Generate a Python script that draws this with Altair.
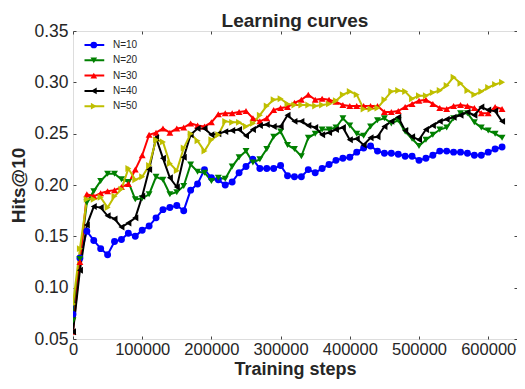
import altair as alt
import pandas as pd

steps = list(range(0, 630000, 10000))
series_names = ["N=10", "N=20", "N=30", "N=40", "N=50"]
colors = ["#0000ff", "#008000", "#ff0000", "#000000", "#bfbf00"]
shapes = ["circle", "triangle-down", "triangle-up", "triangle-left", "triangle-right"]

n10 = [0.074, 0.129, 0.155, 0.146, 0.138, 0.132, 0.145, 0.147, 0.153, 0.150,
       0.156, 0.160, 0.168, 0.176, 0.178, 0.180, 0.175, 0.195, 0.201, 0.215,
       0.207, 0.205, 0.200, 0.203, 0.212, 0.218, 0.225, 0.216, 0.216, 0.216,
       0.219, 0.209, 0.208, 0.208, 0.215, 0.212, 0.216, 0.220, 0.224, 0.226,
       0.227, 0.232, 0.236, 0.238, 0.233, 0.231, 0.231, 0.230, 0.228, 0.228,
       0.224, 0.226, 0.229, 0.233, 0.233, 0.232, 0.232, 0.231, 0.229, 0.229,
       0.232, 0.235, 0.237]
n20 = [0.068, 0.128, 0.183, 0.194, 0.204, 0.211, 0.211, 0.2055, 0.203, 0.186,
       0.187, 0.191, 0.208, 0.205, 0.191, 0.193, 0.199, 0.220, 0.213, 0.212,
       0.204, 0.207, 0.206, 0.218, 0.227, 0.233, 0.222, 0.225, 0.235, 0.247,
       0.252, 0.239, 0.235, 0.228, 0.246, 0.250, 0.254, 0.254, 0.256, 0.265,
       0.258, 0.250, 0.248, 0.257, 0.263, 0.265, 0.260, 0.263, 0.252, 0.245,
       0.238, 0.244, 0.249, 0.254, 0.256, 0.265, 0.270, 0.270, 0.261, 0.256,
       0.253, 0.250, 0.246]
n30 = [0.057, 0.125, 0.191, 0.189, 0.192, 0.194, 0.195, 0.198, 0.201, 0.215,
       0.229, 0.249, 0.251, 0.255, 0.251, 0.255, 0.256, 0.260, 0.258, 0.257,
       0.261, 0.269, 0.270, 0.270, 0.271, 0.272, 0.265, 0.262, 0.265, 0.273,
       0.275, 0.276, 0.280, 0.283, 0.288, 0.283, 0.284, 0.283, 0.281, 0.278,
       0.277, 0.277, 0.277, 0.277, 0.277, 0.271, 0.271, 0.272, 0.276, 0.279,
       0.282, 0.283, 0.279, 0.275, 0.274, 0.277, 0.278, 0.277, 0.275, 0.270,
       0.270, 0.276, 0.274]
n40 = [0.057, 0.117, 0.161, 0.179, 0.178, 0.170, 0.167, 0.159, 0.163, 0.168,
       0.189, 0.215, 0.246, 0.226, 0.207, 0.198, 0.227, 0.249, 0.255, 0.255,
       0.249, 0.250, 0.252, 0.253, 0.254, 0.248, 0.254, 0.258, 0.259, 0.257,
       0.257, 0.268, 0.262, 0.262, 0.258, 0.256, 0.249, 0.251, 0.254, 0.256,
       0.244, 0.245, 0.239, 0.246, 0.247, 0.257, 0.262, 0.266, 0.253, 0.247,
       0.244, 0.254, 0.258, 0.262, 0.264, 0.266, 0.268, 0.271, 0.268, 0.276,
       0.273, 0.272, 0.262]
n50 = [0.084, 0.138, 0.186, 0.186, 0.188, 0.178, 0.189, 0.196, 0.216, 0.205,
       0.208, 0.219, 0.244, 0.242, 0.221, 0.214, 0.236, 0.250, 0.243, 0.233,
       0.244, 0.249, 0.262, 0.261, 0.261, 0.257, 0.260, 0.268, 0.277, 0.283,
       0.284, 0.279, 0.278, 0.278, 0.278, 0.277, 0.278, 0.279, 0.282, 0.288,
       0.291, 0.288, 0.274, 0.274, 0.275, 0.283, 0.291, 0.292, 0.291, 0.284,
       0.287, 0.287, 0.290, 0.292, 0.297, 0.305, 0.299, 0.292, 0.288, 0.291,
       0.295, 0.298, 0.300]

x_ticks = [0, 100000, 200000, 300000, 400000, 500000, 600000]
y_ticks = [0.05, 0.10, 0.15, 0.20, 0.25, 0.30, 0.35]

rows = []
for name, vals in zip(series_names, [n10, n20, n30, n40, n50]):
    for s, v in zip(steps, vals):
        rows.append({"step": s, "hits": v, "series": name, "series_m": name})
df = pd.DataFrame(rows)

FONT = "Liberation Sans"
TXT = "#262626"

xscale = alt.Scale(domain=[0, 641600], nice=False)
yscale = alt.Scale(domain=[0.05, 0.35], nice=False, zero=False)

x_bottom = alt.X("step:Q", scale=xscale, axis=alt.Axis(
    values=x_ticks, format="d", title="Training steps", grid=False, domain=False,
    offset=-3, tickSize=3, tickColor="#444", labelPadding=2, labelFontSize=16.5,
    labelFont=FONT, labelColor=TXT, titleFont=FONT, titleFontSize=18,
    titleFontWeight="bold", titleColor=TXT, titlePadding=3, labelFlush=False))
y_left = alt.Y("hits:Q", scale=yscale, axis=alt.Axis(
    values=y_ticks, format=".2f", title="Hits@10", grid=False, domain=False,
    offset=-3, tickSize=3, tickColor="#444", labelPadding=5, labelFontSize=17.5,
    labelFont=FONT, labelColor=TXT, titleFont=FONT, titleFontSize=19,
    titleFontWeight="bold", titleColor=TXT, titlePadding=5, labelFlush=False))
x_top = alt.X("step:Q", scale=xscale, axis=alt.Axis(
    orient="top", values=x_ticks, labels=False, title=None, grid=False, domain=False,
    offset=-3, tickSize=3, tickColor="#444"))
y_right = alt.Y("hits:Q", scale=yscale, axis=alt.Axis(
    orient="right", values=y_ticks, labels=False, title=None, grid=False, domain=False,
    offset=-3, tickSize=3, tickColor="#444"))

lines = alt.Chart(df).mark_line(strokeWidth=2, clip=True).encode(
    x=x_top, y=y_right,
    stroke=alt.Stroke("series:N", scale=alt.Scale(range=colors),
                      legend=alt.Legend(title=None, orient="none", legendX=11.5, legendY=6.5,
                                        symbolType="M-1.5,0H1.5", symbolSize=225,
                                        symbolStrokeWidth=2, clipHeight=15, rowPadding=0.3,
                                        labelFontSize=10, labelOffset=11.5, labelFont=FONT,
                                        labelColor=TXT, padding=0)),
    detail="series:N",
)

shape_legend = alt.Legend(title=None, orient="none", legendX=15.8, legendY=6.5,
                          symbolSize=45, symbolStrokeWidth=0, clipHeight=15,
                          rowPadding=0.3, labelExpr="''", padding=0, labelFontSize=10)
points = alt.Chart(df).mark_point(filled=True, size=48, opacity=1, strokeWidth=0, clip=True).encode(
    x=x_bottom, y=y_left,
    fill=alt.Fill("series_m:N", scale=alt.Scale(range=colors), legend=shape_legend),
    shape=alt.Shape("series_m:N", scale=alt.Scale(range=shapes), legend=shape_legend),
)

chart = alt.layer(lines, points).resolve_axis(x="independent", y="independent").properties(
    width=444, height=308,
    title=alt.TitleParams("Learning curves", fontSize=19, fontWeight="bold", font=FONT,
                          color=TXT, offset=-9, anchor="middle"),
    autosize=alt.AutoSizeParams(type="none"),
    padding={"left": 65, "top": 23, "right": 0, "bottom": 42},
).configure_view(stroke="#444", strokeWidth=1.5).configure(background="white")

chart.save("out.html", embed_options={"renderer": "svg", "actions": False})
